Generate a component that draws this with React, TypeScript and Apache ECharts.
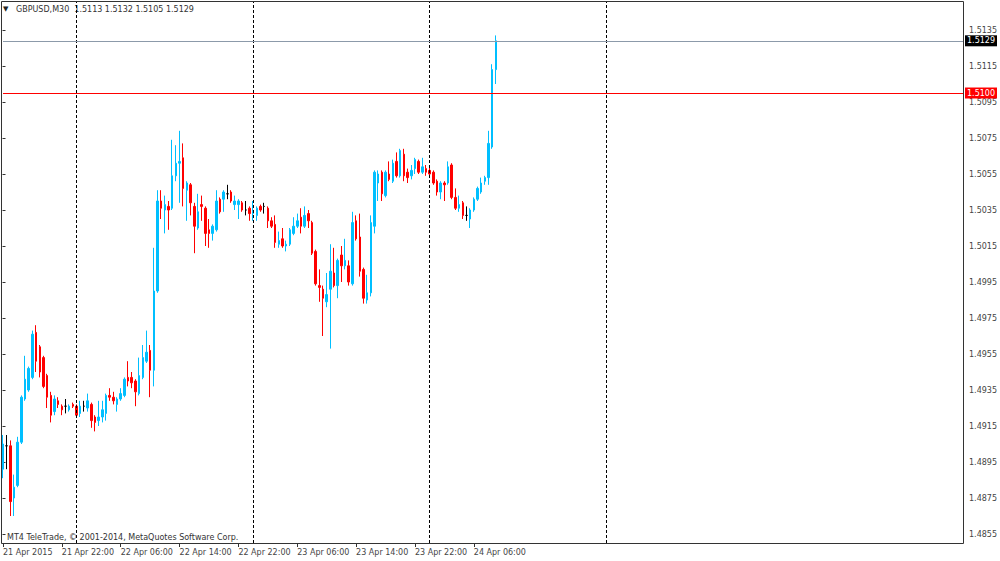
import React, { useEffect, useRef } from 'react';
import * as echarts from 'echarts';

// ---------- data ----------
const SYMBOL = 'GBPUSD,M30';
const COPYRIGHT = 'MT4 TeleTrade, \u00A9 2001-2014, MetaQuotes Software Corp.';
const START_UTC = Date.UTC(2015, 3, 21, 14, 0); // first bar: 21 Apr 2015 14:00
const BAR_MINUTES = 30;
const SLOT_COUNT = 262; // bars visible on screen incl. empty future slots

const OPEN = [
  1.4891, 1.4904, 1.4904, 1.4875, 1.4882, 1.4906, 1.4930, 1.4935, 1.4942, 1.4967,
  1.4959, 1.4953, 1.4943, 1.4932, 1.4923, 1.4929, 1.4926, 1.4926, 1.4924, 1.4927,
  1.4926, 1.4922, 1.4926, 1.4925, 1.4927, 1.4920, 1.4918, 1.4920, 1.4922, 1.4932,
  1.4931, 1.4927, 1.4930, 1.4932, 1.4942, 1.4942, 1.4940, 1.4933, 1.4942, 1.4951,
  1.4957, 1.4946, 1.4990, 1.5040, 1.5035, 1.5037, 1.5036, 1.5054, 1.5061, 1.5064,
  1.5046, 1.5049, 1.5037, 1.5025, 1.5038, 1.5036, 1.5024, 1.5022, 1.5024, 1.5041,
  1.5041, 1.5044, 1.5045, 1.5038, 1.5038, 1.5039, 1.5035, 1.5036, 1.5033, 1.5032,
  1.5037, 1.5037, 1.5036, 1.5029, 1.5027, 1.5016, 1.5019, 1.5015, 1.5016, 1.5022,
  1.5026, 1.5031, 1.5026, 1.5033, 1.5028, 1.5012, 1.4993, 1.4991, 1.4984, 1.4991,
  1.5000, 1.4993, 1.5010, 1.5004, 1.5004, 1.4994, 1.5029, 1.5020, 1.5002, 1.4985,
  1.4989, 1.5026, 1.5050, 1.5056, 1.5043, 1.5055, 1.5051, 1.5062, 1.5054, 1.5066,
  1.5056, 1.5054, 1.5058, 1.5062, 1.5056, 1.5058, 1.5057, 1.5056, 1.5051, 1.5045,
  1.5050, 1.5050, 1.5060, 1.5042, 1.5036, 1.5039, 1.5032, 1.5030, 1.5035, 1.5041,
  1.5045, 1.5051, 1.5053, 1.5070, 1.5113,
];
const HIGH = [
  1.4910, 1.4910, 1.4907, 1.4888, 1.4909, 1.4932, 1.4954, 1.4948, 1.4968, 1.4971,
  1.4960, 1.4954, 1.4944, 1.4934, 1.4932, 1.4931, 1.4927, 1.4930, 1.4927, 1.4928,
  1.4927, 1.4929, 1.4929, 1.4933, 1.4928, 1.4921, 1.4929, 1.4929, 1.4933, 1.4936,
  1.4934, 1.4931, 1.4936, 1.4942, 1.4951, 1.4945, 1.4941, 1.4953, 1.4960, 1.4968,
  1.4960, 1.5014, 1.5046, 1.5046, 1.5043, 1.5040, 1.5074, 1.5071, 1.5079, 1.5072,
  1.5051, 1.5050, 1.5039, 1.5044, 1.5043, 1.5037, 1.5030, 1.5027, 1.5046, 1.5042,
  1.5046, 1.5049, 1.5046, 1.5043, 1.5041, 1.5040, 1.5040, 1.5037, 1.5040, 1.5037,
  1.5038, 1.5039, 1.5037, 1.5031, 1.5032, 1.5023, 1.5025, 1.5018, 1.5025, 1.5031,
  1.5033, 1.5036, 1.5037, 1.5035, 1.5029, 1.5013, 1.5002, 1.4993, 1.5000, 1.5016,
  1.5014, 1.5008, 1.5015, 1.5019, 1.5007, 1.5034, 1.5032, 1.5033, 1.5003, 1.4999,
  1.5032, 1.5057, 1.5057, 1.5057, 1.5057, 1.5062, 1.5063, 1.5067, 1.5069, 1.5069,
  1.5058, 1.5060, 1.5064, 1.5063, 1.5064, 1.5060, 1.5060, 1.5057, 1.5052, 1.5051,
  1.5051, 1.5062, 1.5061, 1.5047, 1.5043, 1.5040, 1.5037, 1.5036, 1.5042, 1.5048,
  1.5053, 1.5054, 1.5079, 1.5116, 1.5132,
];
const LOW = [
  1.4886, 1.4891, 1.4865, 1.4865, 1.4881, 1.4905, 1.4929, 1.4934, 1.4941, 1.4945,
  1.4942, 1.4936, 1.4925, 1.4917, 1.4921, 1.4925, 1.4921, 1.4922, 1.4923, 1.4925,
  1.4920, 1.4920, 1.4923, 1.4923, 1.4914, 1.4912, 1.4915, 1.4917, 1.4918, 1.4929,
  1.4927, 1.4923, 1.4929, 1.4931, 1.4937, 1.4936, 1.4926, 1.4932, 1.4941, 1.4950,
  1.4931, 1.4937, 1.4989, 1.5030, 1.5022, 1.5024, 1.5035, 1.5051, 1.5039, 1.5037,
  1.5029, 1.5032, 1.5011, 1.5024, 1.5029, 1.5015, 1.5014, 1.5018, 1.5023, 1.5033,
  1.5034, 1.5041, 1.5039, 1.5035, 1.5030, 1.5034, 1.5032, 1.5029, 1.5029, 1.5029,
  1.5034, 1.5033, 1.5025, 1.5025, 1.5014, 1.5014, 1.5014, 1.5012, 1.5015, 1.5021,
  1.5025, 1.5022, 1.5025, 1.5025, 1.5010, 1.4993, 1.4984, 1.4965, 1.4981, 1.4958,
  1.4992, 1.4986, 1.4995, 1.5002, 1.4993, 1.4993, 1.5018, 1.4998, 1.4983, 1.4983,
  1.4987, 1.5022, 1.5040, 1.5040, 1.5042, 1.5051, 1.5050, 1.5053, 1.5053, 1.5051,
  1.5050, 1.5052, 1.5055, 1.5055, 1.5055, 1.5054, 1.5054, 1.5049, 1.5043, 1.5041,
  1.5040, 1.5049, 1.5041, 1.5035, 1.5034, 1.5030, 1.5029, 1.5025, 1.5034, 1.5040,
  1.5044, 1.5049, 1.5049, 1.5069, 1.5105,
];
const CLOSE = [
  1.4905, 1.4904, 1.4873, 1.4881, 1.4906, 1.4931, 1.4941, 1.4947, 1.4966, 1.4951,
  1.4945, 1.4937, 1.4931, 1.4921, 1.4930, 1.4927, 1.4924, 1.4926, 1.4926, 1.4926,
  1.4921, 1.4926, 1.4926, 1.4929, 1.4918, 1.4917, 1.4920, 1.4924, 1.4932, 1.4931,
  1.4929, 1.4930, 1.4933, 1.4941, 1.4940, 1.4939, 1.4934, 1.4943, 1.4953, 1.4956,
  1.4946, 1.4990, 1.5040, 1.5036, 1.5038, 1.5035, 1.5054, 1.5061, 1.5062, 1.5047,
  1.5050, 1.5039, 1.5026, 1.5034, 1.5037, 1.5022, 1.5022, 1.5026, 1.5040, 1.5034,
  1.5045, 1.5044, 1.5040, 1.5040, 1.5040, 1.5035, 1.5035, 1.5033, 1.5034, 1.5036,
  1.5035, 1.5037, 1.5029, 1.5026, 1.5017, 1.5018, 1.5015, 1.5016, 1.5024, 1.5026,
  1.5029, 1.5026, 1.5032, 1.5029, 1.5011, 1.4994, 1.4992, 1.4986, 1.4988, 1.5001,
  1.4993, 1.5007, 1.5004, 1.5007, 1.4995, 1.5028, 1.5019, 1.5001, 1.4986, 1.4989,
  1.5028, 1.5056, 1.5055, 1.5044, 1.5056, 1.5052, 1.5061, 1.5054, 1.5068, 1.5054,
  1.5053, 1.5057, 1.5063, 1.5056, 1.5059, 1.5056, 1.5055, 1.5050, 1.5045, 1.5050,
  1.5049, 1.5059, 1.5042, 1.5036, 1.5038, 1.5032, 1.5032, 1.5035, 1.5041, 1.5047,
  1.5050, 1.5053, 1.5072, 1.5113, 1.5129,
];

const X_TICK_LABELS = [
  '21 Apr 2015', '21 Apr 22:00', '22 Apr 06:00', '22 Apr 14:00', '22 Apr 22:00',
  '23 Apr 06:00', '23 Apr 14:00', '23 Apr 22:00', '24 Apr 06:00',
];
const X_TICK_EVERY = 16; // bars between time labels (8 hours)
const DAY_SEPARATORS = ['2015-04-22 00:00', '2015-04-23 00:00', '2015-04-24 00:00', '2015-04-25 00:00'];
const BID_LINE = 1.5129;
const ALERT_LINE = 1.51;
const Y_TICK_FIRST = 1.4855;
const Y_TICK_LAST = 1.5135;
const Y_TICK_STEP = 0.002;
const Y_VIEW_MIN = 1.485;
const Y_VIEW_MAX = 1.515056;

// ---------- helpers ----------
const pad = (n: number) => (n < 10 ? '0' + n : '' + n);
const slotName = (i: number) => {
  const d = new Date(START_UTC + i * BAR_MINUTES * 60000);
  return `${d.getUTCFullYear()}-${pad(d.getUTCMonth() + 1)}-${pad(d.getUTCDate())} ${pad(d.getUTCHours())}:${pad(d.getUTCMinutes())}`;
};
const CATEGORIES = Array.from({ length: SLOT_COUNT }, (_, i) => slotName(i));

const FONT = '"DejaVu Sans", Verdana, sans-serif';
const BULL = '#00BFFF';
const BEAR = '#FF0000';

export default function App() {
  const ref = useRef<HTMLDivElement>(null);

  useEffect(() => {
    if (!ref.current) return;
    const chart = echarts.init(ref.current, undefined, { renderer: 'svg' });
    const last = OPEN.length - 1;
    const header = `${SYMBOL}  ${OPEN[last].toFixed(4)} ${HIGH[last].toFixed(4)} ${LOW[last].toFixed(4)} ${CLOSE[last].toFixed(4)}`;
    const showTick = (i: number) => i % X_TICK_EVERY === 0 && i / X_TICK_EVERY < X_TICK_LABELS.length;
    const candles = OPEN.map((o, i) => [o, CLOSE[i], LOW[i], HIGH[i]]);

    const priceLineSeries = (name: string, value: number, lineColor: string, boxColor: string) => ({
      type: 'line',
      name,
      xAxisIndex: 0,
      yAxisIndex: 0,
      data: [],
      silent: true,
      markLine: {
        silent: true,
        symbol: ['none', 'none'],
        precision: 4,
        animation: false,
        lineStyle: { type: 'solid', color: lineColor, width: 1 },
        label: {
          show: true,
          position: 'end',
          distance: 2,
          formatter: (p: any) => Number(p.value).toFixed(4),
          backgroundColor: boxColor,
          color: '#fff',
          fontSize: 8,
          fontFamily: FONT,
          padding: [2, 2, 1, 2],
        },
        data: [{ yAxis: value }],
      },
    });

    chart.setOption({
      animation: false,
      backgroundColor: '#ffffff',
      textStyle: { fontFamily: FONT },
      grid: [
        { left: 2.5, right: 37, top: 2, bottom: 18 },
        { left: 2.5, right: 37, top: 30, bottom: 27 },
      ],
      xAxis: [
        {
          type: 'category',
          gridIndex: 0,
          data: CATEGORIES,
          boundaryGap: false,
          axisLine: { show: false },
          axisTick: { show: true, interval: (i: number) => showTick(i), length: 4, lineStyle: { color: '#333' } },
          axisLabel: {
            interval: (i: number) => showTick(i),
            formatter: (_v: string, i: number) => X_TICK_LABELS[i / X_TICK_EVERY] ?? '',
            align: 'left',
            fontSize: 8,
            color: '#444',
            margin: 5,
            fontFamily: FONT,
          },
          splitLine: { show: false },
        },
        { type: 'value', gridIndex: 1, show: false, min: 0, max: 1 },
      ],
      yAxis: [
        { type: 'value', gridIndex: 0, min: Y_VIEW_MIN, max: Y_VIEW_MAX, show: false, splitLine: { show: false } },
        {
          type: 'value',
          gridIndex: 1,
          position: 'right',
          min: Y_TICK_FIRST,
          max: Y_TICK_LAST,
          interval: Y_TICK_STEP,
          axisLine: { show: false },
          axisTick: { show: true, length: 3, lineStyle: { color: '#333' } },
          axisLabel: {
            fontSize: 8,
            color: '#444',
            margin: 6,
            fontFamily: FONT,
            formatter: (v: number) => v.toFixed(4),
          },
          splitLine: { show: false },
        },
      ],
      series: [
        {
          type: 'candlestick',
          xAxisIndex: 0,
          yAxisIndex: 0,
          data: candles,
          barWidth: 2,
          clip: false,
          itemStyle: {
            color: BULL,
            color0: BEAR,
            borderColor: BULL,
            borderColor0: BEAR,
            borderColorDoji: '#000000',
            borderWidth: 1,
          },
          markLine: {
            silent: true,
            symbol: ['none', 'none'],
            animation: false,
            lineStyle: { type: [3, 2], color: '#000', width: 1 },
            label: { show: false },
            data: DAY_SEPARATORS.map((t) => ({ xAxis: t })),
          },
        },
        priceLineSeries('alert', ALERT_LINE, '#FF0000', '#FF0000'),
        priceLineSeries('bid', BID_LINE, '#8C9AAA', '#000000'),
      ],
      graphic: [
        {
          type: 'rect',
          silent: true,
          z: 100,
          shape: { x: 1.5, y: 1.5, width: 962, height: 542 },
          style: { fill: 'none', stroke: '#333', lineWidth: 1 },
        },
        {
          type: 'text',
          left: 3,
          top: 5,
          style: { text: '\u25BC', fontSize: 7, fill: '#222', fontFamily: FONT },
        },
        {
          type: 'text',
          left: 16,
          top: 5,
          style: { text: header, fontSize: 8, fill: '#333', fontFamily: FONT },
        },
        {
          type: 'text',
          left: 7,
          top: 533,
          style: { text: COPYRIGHT, fontSize: 8, fill: '#333', fontFamily: FONT },
        },
      ],
    });
    return () => chart.dispose();
  }, []);

  return (
    <div
      ref={ref}
      style={{ position: 'fixed', left: 0, top: 0, width: 1000, height: 561, background: '#fff' }}
    />
  );
}
